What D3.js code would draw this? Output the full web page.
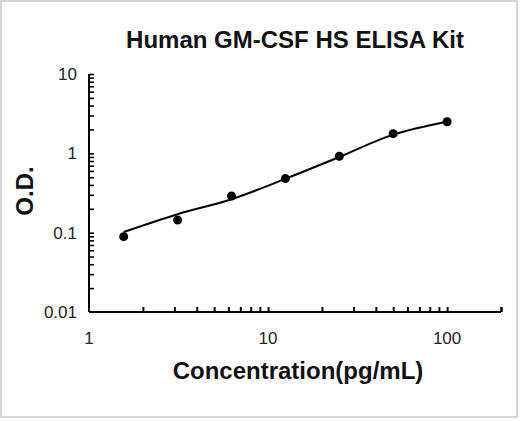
<!DOCTYPE html>
<html><head><meta charset="utf-8">
<script src="https://cdn.jsdelivr.net/npm/d3@7"></script>
<style>html,body{margin:0;padding:0;background:#fff;}svg{display:block;}</style>
</head><body>
<svg id="chart" width="520" height="421"></svg>
<script>
// Data
const title = "Human GM-CSF HS ELISA Kit";
const xLabel = "Concentration(pg/mL)";
const yLabel = "O.D.";
const concentrations = [1.5625, 3.125, 6.25, 12.5, 25, 50, 100];
const odValues = [0.089, 0.144, 0.29, 0.48, 0.92, 1.77, 2.5];
const fitValues = [0.102, 0.171, 0.264, 0.477, 0.9, 1.72, 2.5];
const xTickLabels = [1, 10, 100];
const yTickLabels = [0.01, 0.1, 1, 10];
const xDomain = [1, 200];
const yDomain = [0.01, 10];

const svg = d3.select("#chart");
const font = "'Liberation Sans', Arial, sans-serif";

svg.append("rect").attr("x", 1).attr("y", 1).attr("width", 516).attr("height", 416)
  .attr("fill", "#fff").attr("stroke", "#d6d6d6").attr("stroke-width", 2);

const x = d3.scaleLog().domain(xDomain).range([89, 501]);
const y = d3.scaleLog().domain(yDomain).range([312, 74]);

// minor ticks
const xTicks = [];
for (let d = 1; d <= 100; d *= 10) for (let k = 1; k <= 9; k++) { const v = d * k; if (v > 1 && v <= 200) xTicks.push(v); }
xTicks.push(200);
const yTicks = [];
for (let d = 0.01; d < 10; d *= 10) for (let k = 1; k <= 9; k++) { const v = +(d * k).toPrecision(3); if (v > 0.01) yTicks.push(v); }
yTicks.push(10);

const gx = svg.append("g").attr("transform", "translate(0,312)");
gx.call(d3.axisTop(x).tickValues(xTicks).tickSize(5).tickFormat(""));
gx.select(".domain").attr("d", `M${x(1)},0H${x(200)}`).attr("stroke", "#000").attr("stroke-width", 2);
gx.selectAll("line").attr("stroke", "#000").attr("stroke-width", 2);

const gy = svg.append("g").attr("transform", "translate(89,0)");
gy.call(d3.axisRight(y).tickValues(yTicks).tickSize(5).tickFormat(""));
gy.select(".domain").attr("d", `M0,${y(10)}V${y(0.01)}`).attr("stroke", "#000").attr("stroke-width", 2);
gy.selectAll("line").attr("stroke", "#000").attr("stroke-width", 1.6);

// tick labels
svg.append("g").selectAll("text").data(xTickLabels).join("text")
  .attr("x", d => x(d)).attr("y", 344).attr("text-anchor", "middle")
  .attr("font-family", font).attr("font-size", 17).attr("fill", "#222").text(d => d);
svg.append("g").selectAll("text").data(yTickLabels).join("text")
  .attr("x", 77).attr("y", d => y(d)).attr("dy", "0.36em").attr("text-anchor", "end")
  .attr("font-family", font).attr("font-size", 17).attr("fill", "#222").text(d => d);

// fit curve
const line = d3.line().x((d, i) => x(concentrations[i])).y(d => y(d)).curve(d3.curveCatmullRom.alpha(0.5));
svg.append("path").attr("d", line(fitValues)).attr("fill", "none").attr("stroke", "#000").attr("stroke-width", 2);

// points
svg.append("g").selectAll("circle").data(odValues).join("circle")
  .attr("cx", (d, i) => x(concentrations[i])).attr("cy", d => y(d)).attr("r", 4.5).attr("fill", "#000");

// titles
svg.append("text").attr("x", 295).attr("y", 48).attr("text-anchor", "middle")
  .attr("font-family", font).attr("font-weight", "bold").attr("font-size", 24).attr("fill", "#111").text(title);
svg.append("text").attr("x", 298).attr("y", 379).attr("text-anchor", "middle")
  .attr("font-family", font).attr("font-weight", "bold").attr("font-size", 24).attr("fill", "#111").text(xLabel);
svg.append("text").attr("transform", "translate(33,191) rotate(-90)").attr("text-anchor", "middle")
  .attr("font-family", font).attr("font-weight", "bold").attr("font-size", 24).attr("fill", "#111").text(yLabel);
</script>
</body></html>
